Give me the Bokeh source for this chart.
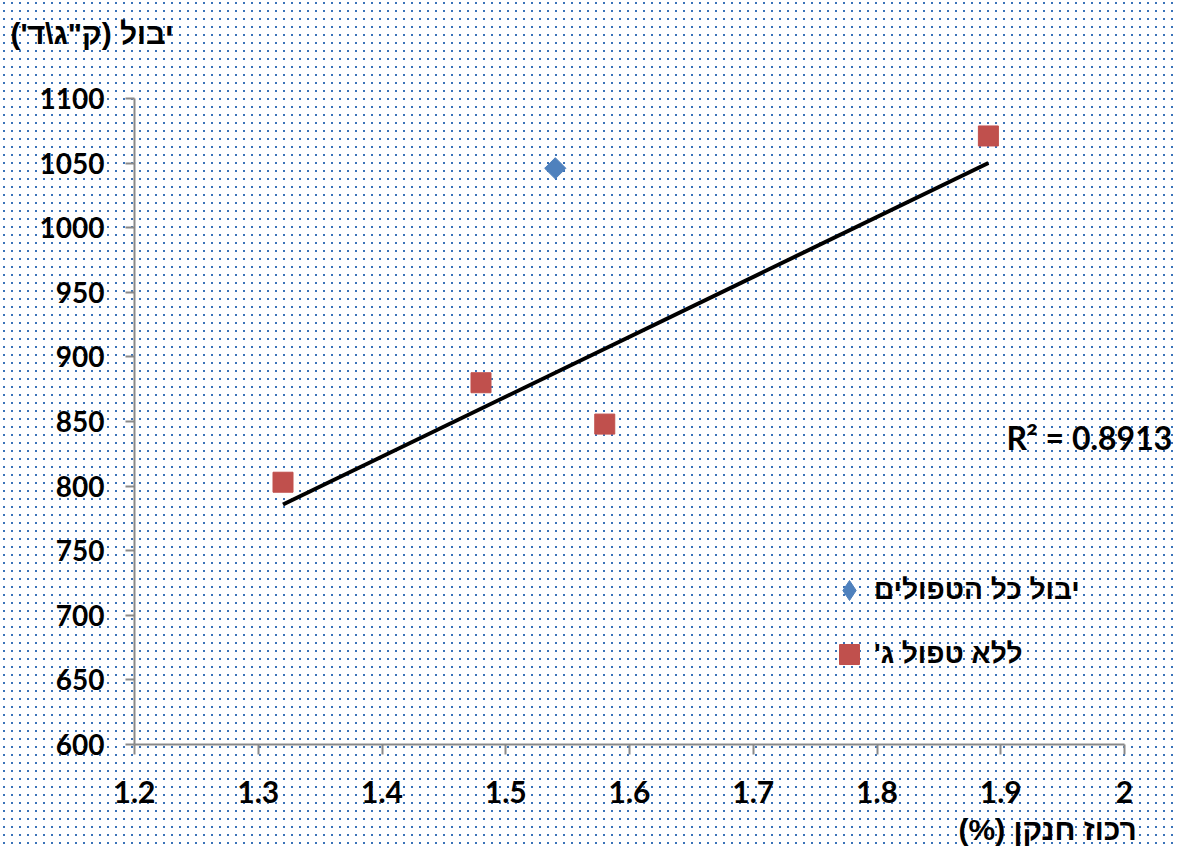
import numpy as np
import zlib, struct, base64
from bokeh.plotting import figure
from bokeh.models import (Range1d, FixedTicker, NumeralTickFormatter, BoxAnnotation,
                          Label, Legend, LegendItem, ImageURLTexture)
from bokeh.core.properties import value
from bokeh.embed import file_html
from bokeh.resources import INLINE

# ---- data ----
all_x = [1.54]
all_y = [1046]
no_g_x = [1.32, 1.48, 1.58, 1.89]
no_g_y = [803, 880, 848, 1071]
x_ticks = [1.2, 1.3, 1.4, 1.5, 1.6, 1.7, 1.8, 1.9, 2.0]
y_ticks = [600, 650, 700, 750, 800, 850, 900, 950, 1000, 1050, 1100]
series_names = ["יבול כל הטפולים", "ללא טפול ג'"]
y_title = "יבול (ק\"ג\\ד')"
x_title = "רכוז חנקן (%)"
r2_text = "R² = 0.8913"

RLE, PDF = "\u202b", "\u202c"
def rtl(s):
    return RLE + s + PDF

BLUE = "#4F81BD"
RED = "#C0504D"
AXIS = "#898989"
NUM_FONT = "Lato"
HEB_FONT = "Liberation Sans"

# canvas and plot-area geometry (pixels)
W, H = 1173, 847
X0_PX, X1_PX = 134, 1124   # where x_ticks[0] and x_ticks[-1] fall
Y0_PX, Y1_PX = 744, 98     # where y_ticks[0] and y_ticks[-1] fall
xs = (x_ticks[-1] - x_ticks[0]) / (X1_PX - X0_PX)
ys = (y_ticks[-1] - y_ticks[0]) / (Y0_PX - Y1_PX)
def dx(px):
    return x_ticks[0] + (px - X0_PX) * xs
def dy(py):
    return y_ticks[0] + (Y0_PX - py) * ys

p = figure(width=W, height=H,
           x_range=Range1d(dx(0), dx(W)), y_range=Range1d(dy(H), dy(0)),
           output_backend="svg", toolbar_location=None, min_border=0)
p.outline_line_color = None
p.grid.visible = False
p.background_fill_color = "white"
p.border_fill_color = "white"

# --- dotted background texture (8px tile, one 2px dot) ---
def png_tile(n, dots, rgb):
    rows = []
    for yy in range(n):
        row = b"\x00"
        for xx in range(n):
            on = any(x0 <= xx < x0 + 2 and y0 <= yy < y0 + 2 for x0, y0 in dots)
            row += bytes(rgb + (255,)) if on else bytes((255, 255, 255, 0))
        rows.append(row)
    def chunk(t, d):
        return struct.pack(">I", len(d)) + t + d + struct.pack(">I", zlib.crc32(t + d) & 0xffffffff)
    return (b"\x89PNG\r\n\x1a\n" + chunk(b"IHDR", struct.pack(">IIBBBBB", n, n, 8, 6, 0, 0, 0))
            + chunk(b"IDAT", zlib.compress(b"".join(rows))) + chunk(b"IEND", b""))

tile = png_tile(8, [(3, 2)], (0x3A, 0x72, 0xB8))
url = "data:image/png;base64," + base64.b64encode(tile).decode()

bg = BoxAnnotation(left=dx(0), right=dx(W), top=dy(0), bottom=dy(H),
                   fill_color="white", fill_alpha=1.0, line_color=None,
                   hatch_pattern="dots", hatch_extra={"dots": ImageURLTexture(url=url)},
                   hatch_alpha=1.0, level="underlay")
p.add_layout(bg)

# axes
for ax in (p.xaxis[0], p.yaxis[0]):
    ax.axis_line_color = AXIS
    ax.axis_line_width = 2
    ax.major_tick_line_color = AXIS
    ax.major_tick_line_width = 2
    ax.major_tick_in = 0
    ax.minor_tick_line_color = None
    ax.major_label_text_font = NUM_FONT
    ax.major_label_text_font_style = "bold"
    ax.major_label_text_color = "black"

p.xaxis.fixed_location = y_ticks[0]
p.xaxis.bounds = (x_ticks[0], x_ticks[-1])
p.xaxis.ticker = FixedTicker(ticks=x_ticks)
p.xaxis.formatter = NumeralTickFormatter(format="0.[0]")
p.xaxis.major_tick_out = 10
p.xaxis.major_label_standoff = 26
p.xaxis.major_label_text_font_size = "30px"

p.yaxis.fixed_location = x_ticks[0]
p.yaxis.bounds = (y_ticks[0], y_ticks[-1])
p.yaxis.ticker = FixedTicker(ticks=y_ticks)
p.yaxis.major_tick_out = 9
p.yaxis.major_label_standoff = 21
p.yaxis.major_label_text_font_size = "28px"

# trendline for the red series
slope, intercept = np.polyfit(no_g_x, no_g_y, 1)
tx = np.array([min(no_g_x), max(no_g_x)])
p.line(tx, slope * tx + intercept, line_color="black", line_width=4)

# legend glyph for the blue series (hidden under the rotated square)
r_blue_leg = p.scatter(all_x, all_y, marker="diamond", size=18,
                       fill_color=BLUE, line_color=BLUE)
p.scatter(all_x, all_y, marker="square", angle=np.pi / 4, size=15,
          fill_color=BLUE, line_color=BLUE)
r_red = p.scatter(no_g_x, no_g_y, marker="square", size=20,
                  fill_color=RED, line_color=RED)

legend = Legend(items=[LegendItem(label=value(rtl(series_names[0])), renderers=[r_blue_leg]),
                       LegendItem(label=value(rtl(series_names[1])), renderers=[r_red])],
                location=(824, 168), border_line_color=None, background_fill_alpha=0,
                padding=0, margin=0, spacing=14, glyph_width=50, glyph_height=50,
                label_height=50, label_standoff=0,
                label_text_font=HEB_FONT, label_text_font_style="bold",
                label_text_font_size="28px", label_text_color="black")
p.add_layout(legend)

p.add_layout(Label(x=dx(10), y=dy(33), text=rtl(y_title), text_align="left", text_baseline="middle",
                   text_font=HEB_FONT, text_font_style="bold", text_font_size="30px",
                   text_color="black"))
p.add_layout(Label(x=dx(958), y=dy(829), text=rtl(x_title), text_align="left", text_baseline="middle",
                   text_font=HEB_FONT, text_font_style="bold", text_font_size="30px",
                   text_color="black"))
p.add_layout(Label(x=dx(1006), y=dy(437), text=r2_text, text_align="left", text_baseline="middle",
                   text_font=NUM_FONT, text_font_style="bold", text_font_size="32px",
                   text_color="black"))

open("out.html", "w").write(file_html(p, INLINE))
